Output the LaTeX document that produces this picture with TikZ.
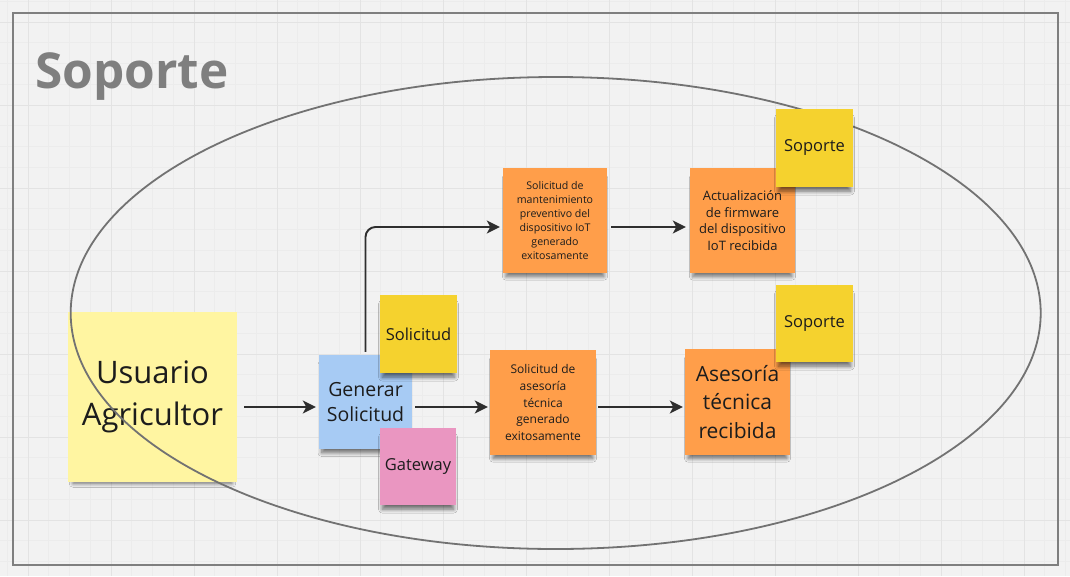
\documentclass[tikz,border=0pt]{standalone}
\usepackage{fontspec}
\setmainfont{Open Sans}
\usetikzlibrary{positioning,shadows.blur,arrows.meta}
\definecolor{paper}{HTML}{F2F2F2}
\definecolor{minor}{HTML}{ECECEC}
\definecolor{major}{HTML}{E3E3E3}
\definecolor{marco}{HTML}{7F7F7F}
\definecolor{ink}{HTML}{1C1C1C}
\definecolor{amarilloclaro}{HTML}{FFF5A1}
\definecolor{amarillo}{HTML}{F5D22E}
\definecolor{azul}{HTML}{A7CBF4}
\definecolor{rosa}{HTML}{EA96C1}
\definecolor{naranja}{HTML}{FF9E4A}
\definecolor{flechagris}{HTML}{2E2E2E}

\begin{document}
\begin{tikzpicture}[x=1pt,y=-1pt,
	note/.style={inner sep=0pt, align=center, text=ink,
		blur shadow={shadow xshift=0pt, shadow yshift=-7pt, shadow scale=0.94,
			shadow opacity=55, shadow blur steps=10, shadow blur radius=4pt}},
	flecha/.style={-{Stealth[length=13pt,width=13pt,inset=3.5pt]}, line width=1.9pt, draw=flechagris}]
	% fondo y cuadricula
	\fill[paper] (0,0) rectangle (1070,576);
	\useasboundingbox (0,0) rectangle (1070,576);
	\foreach \k in {-1,...,50}
		\draw[minor, line width=.6pt] (28+20.75*\k,0) -- (28+20.75*\k,576);
	\foreach \k in {-1,...,27}
		\draw[minor, line width=.6pt] (0,22+20.75*\k) -- (1070,22+20.75*\k);
	\foreach \k in {0,...,12}
		\draw[major, line width=1pt] (28+83*\k,0) -- (28+83*\k,576);
	\foreach \k in {0,...,6}
		\draw[major, line width=1pt] (0,22+83*\k) -- (1070,22+83*\k);
	% marco
	\draw[marco, line width=2pt] (13,13) rectangle (1058,565);
	\node[anchor=base west, text=marco, font=\bfseries\fontsize{49.5}{58}\selectfont, inner sep=0pt] (titulo) at (35,88) {Soporte};
	% filas de las flechas
	\coordinate (filaA) at (0,227);
	\coordinate (filaB) at (0,407);
	% actor
	\node[note, fill=amarilloclaro, minimum width=169pt, minimum height=170pt,
		font=\fontsize{31}{42}\selectfont] (usuario) at (152.5,397) {Usuario\\Agricultor};
	\draw[marco!90!black, line width=1.8pt] (555.7,313) ellipse [x radius=485, y radius=236];
	% notas
	\node[note, fill=azul, minimum width=93pt, minimum height=94pt,
		font=\fontsize{19.5}{24.5}\selectfont] (generar) at (365.5,402) {Generar\\Solicitud};
	\node[note, fill=amarillo, minimum width=77pt, minimum height=78pt,
		font=\fontsize{16.5}{20}\selectfont] (solicitud) at (418.5,334) {Solicitud};
	\node[note, fill=rosa, minimum width=76pt, minimum height=77pt,
		font=\fontsize{16.5}{20}\selectfont] (gateway) at (418,466.5) {Gateway};
	\node[note, fill=naranja, minimum width=104pt, minimum height=105pt,
		font=\fontsize{10.6}{14}\selectfont] (mant) at (555,220.5)
		{Solicitud de\\mantenimiento\\preventivo del\\dispositivo IoT\\generado\\exitosamente};
	\node[note, fill=naranja, minimum width=105pt, minimum height=105pt,
		font=\fontsize{13}{16.5}\selectfont] (firmware) at (742.5,220.5)
		{Actualización\\de firmware\\del dispositivo\\IoT recibida};
	\node[note, fill=amarillo, minimum width=77pt, minimum height=78pt,
		font=\fontsize{16.5}{20}\selectfont] (soporteA) at (814.5,148) {Soporte};
	\node[note, fill=naranja, minimum width=106pt, minimum height=105pt,
		font=\fontsize{12}{16.7}\selectfont] (asesoria) at (543,402.5)
		{Solicitud de\\asesoría\\técnica\\generado\\exitosamente};
	\node[note, fill=naranja, minimum width=105pt, minimum height=106pt,
		font=\fontsize{21}{28.5}\selectfont] (recibida) at (737.5,402) {Asesoría\\técnica\\recibida};
	\node[note, fill=amarillo, minimum width=77pt, minimum height=77pt,
		font=\fontsize{16.5}{20}\selectfont] (soporteB) at (814.5,323.5) {Soporte};
	% flechas
	\draw[flecha, shorten <=7pt, shorten >=3pt] (usuario.east |- filaB) -- (generar.west |- filaB);
	\draw[flecha, shorten <=3pt, shorten >=2pt] (generar.east |- filaB) -- (asesoria.west |- filaB);
	\draw[flecha, shorten <=2pt, shorten >=2pt] (asesoria.east |- filaB) -- (recibida.west |- filaB);
	\draw[flecha, shorten <=4pt, shorten >=4pt] (mant.east |- filaA) -- (firmware.west |- filaA);
	\draw[flecha, rounded corners=10pt, shorten <=3pt, shorten >=3pt] (generar.north) |- (mant.west |- filaA);
\end{tikzpicture}
\end{document}
